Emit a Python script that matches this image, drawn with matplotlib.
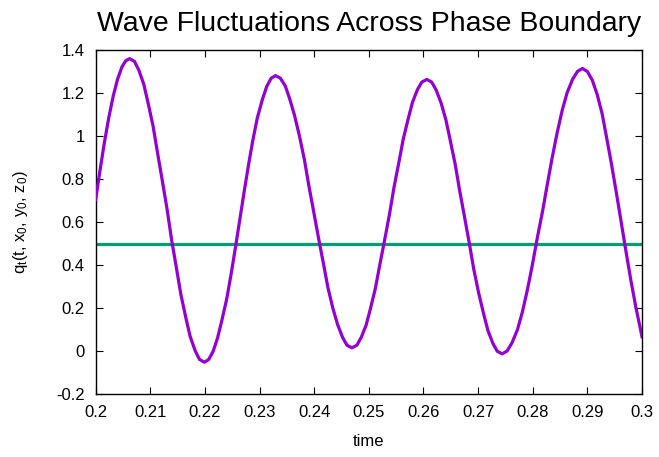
"""Wave fluctuations across a phase boundary, gnuplot-like look."""
import matplotlib
matplotlib.use("Agg")
from matplotlib import pyplot
from matplotlib.ticker import FormatStrFormatter, MultipleLocator

pyplot.rcParams["font.family"] = ["Liberation Sans", "DejaVu Sans"]
pyplot.rcParams["mathtext.fontset"] = "custom"
pyplot.rcParams["mathtext.rm"] = "Liberation Sans"
pyplot.rcParams["mathtext.it"] = "Liberation Sans"

# values
time = [
    0.2000, 0.2008, 0.2016, 0.2024, 0.2032, 0.2040, 0.2048, 0.2055,
    0.2062, 0.2071, 0.2079, 0.2088, 0.2096, 0.2105, 0.2113, 0.2122,
    0.2131, 0.2139, 0.2148, 0.2156, 0.2165, 0.2173, 0.2182, 0.2190,
    0.2199, 0.2207, 0.2215, 0.2223, 0.2231, 0.2240, 0.2248, 0.2256,
    0.2264, 0.2272, 0.2280, 0.2288, 0.2296, 0.2305, 0.2313, 0.2321,
    0.2329, 0.2338, 0.2347, 0.2355, 0.2364, 0.2373, 0.2382, 0.2390,
    0.2399, 0.2408, 0.2417, 0.2425, 0.2434, 0.2443, 0.2452, 0.2460,
    0.2469, 0.2478, 0.2486, 0.2495, 0.2503, 0.2512, 0.2520, 0.2529,
    0.2538, 0.2546, 0.2555, 0.2563, 0.2572, 0.2580, 0.2589, 0.2597,
    0.2606, 0.2615, 0.2623, 0.2632, 0.2641, 0.2649, 0.2658, 0.2666,
    0.2675, 0.2684, 0.2692, 0.2701, 0.2710, 0.2718, 0.2727, 0.2735,
    0.2744, 0.2753, 0.2762, 0.2772, 0.2781, 0.2790, 0.2799, 0.2808,
    0.2818, 0.2827, 0.2836, 0.2845, 0.2854, 0.2863, 0.2873, 0.2882,
    0.2891, 0.2900, 0.2909, 0.2918, 0.2927, 0.2935, 0.2944, 0.2953,
    0.2962, 0.2971, 0.2980, 0.2989, 0.2998, 0.3000,
]
wave = [
    0.705, 0.842, 0.971, 1.086, 1.185, 1.264, 1.321, 1.350,
    1.360, 1.347, 1.306, 1.241, 1.153, 1.047, 0.925, 0.792,
    0.655, 0.517, 0.384, 0.263, 0.156, 0.068, 0.003, -0.038,
    -0.051, -0.038, 0.000, 0.061, 0.144, 0.245, 0.360, 0.485,
    0.615, 0.745, 0.870, 0.985, 1.086, 1.169, 1.230, 1.268,
    1.281, 1.269, 1.233, 1.174, 1.096, 1.000, 0.891, 0.772,
    0.649, 0.525, 0.406, 0.297, 0.201, 0.123, 0.064, 0.028,
    0.016, 0.028, 0.064, 0.121, 0.199, 0.293, 0.401, 0.518,
    0.640, 0.761, 0.878, 0.986, 1.080, 1.158, 1.216, 1.251,
    1.263, 1.251, 1.215, 1.156, 1.076, 0.980, 0.870, 0.750,
    0.626, 0.501, 0.382, 0.271, 0.175, 0.096, 0.037, 0.000,
    -0.012, 0.001, 0.039, 0.100, 0.182, 0.283, 0.397, 0.522,
    0.651, 0.780, 0.905, 1.019, 1.120, 1.202, 1.264, 1.301,
    1.314, 1.300, 1.260, 1.193, 1.104, 0.996, 0.872, 0.738,
    0.599, 0.459, 0.325, 0.201, 0.093, 0.067,
]
boundary_t = [0.2, 0.3]
boundary_q = [0.5, 0.5]

fig = pyplot.figure(figsize=(6.59, 4.57), dpi=100)
ax = fig.add_axes([0.1452, 0.1372, 0.829, 0.7534])

ax.plot(time, wave, color="#9400d3", lw=2.3, solid_joinstyle="round", zorder=3)
ax.plot(boundary_t, boundary_q, color="#009e73", lw=2.3, zorder=2)

ax.set_xlim(0.2, 0.3)
ax.set_ylim(-0.2, 1.4)
ax.xaxis.set_major_locator(MultipleLocator(0.01))
ax.yaxis.set_major_locator(MultipleLocator(0.2))
ax.xaxis.set_major_formatter(FormatStrFormatter("%g"))
ax.yaxis.set_major_formatter(FormatStrFormatter("%g"))
ax.tick_params(direction="in", length=5, width=0.8, labelsize=12, pad=8,
               top=True, right=True)
for sp in ax.spines.values():
    sp.set_linewidth(1.0)

ax.set_title("Wave Fluctuations Across Phase Boundary", fontsize=20.4, pad=14)
ax.set_xlabel("time", fontsize=12, labelpad=10)
ax.set_ylabel(r"q$_\mathrm{t}$(t, x$_\mathrm{0}$, y$_\mathrm{0}$, z$_\mathrm{0}$)",
              fontsize=12, labelpad=19)

fig.savefig("out.png", dpi=100)
